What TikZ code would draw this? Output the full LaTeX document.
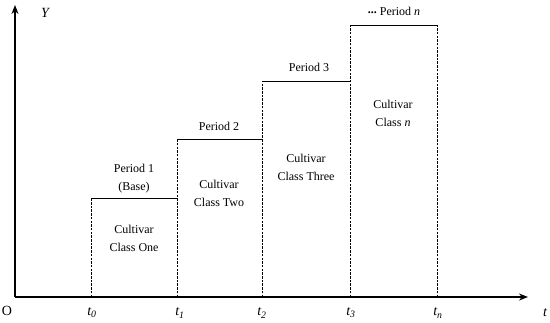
\documentclass[tikz,border=0pt]{standalone}
\usepackage{fontspec}
\setmainfont{Liberation Serif}
\usetikzlibrary{arrows.meta}
\begin{document}
\begin{tikzpicture}[x=1pt,y=-1pt,
  axis/.style={line width=1.5pt,-{Stealth[length=9pt,width=7pt]}},
  top/.style={line width=1pt},
  side/.style={line width=0.9pt,dash pattern=on 2.5pt off 1.2pt},
  lbl/.style={font=\fontsize{12}{18}\selectfont,align=center,inner sep=0pt},
  tick/.style={font=\fontsize{14}{16}\selectfont\itshape,inner sep=0pt}]
\useasboundingbox (0,0) rectangle (550,322);
\coordinate (O) at (15,297);
\coordinate (Yend) at (15,5);
\coordinate (Xend) at (528,297);
\foreach \n/\x in {0/91,1/177,2/262,3/350,n/437}{\coordinate (b\n) at (\x,297);}
\coordinate (h0) at (91,198);
\coordinate (h1a) at (177,198);
\coordinate (h1) at (177,139);
\coordinate (h2a) at (262,139);
\coordinate (h2) at (262,81);
\coordinate (h3a) at (350,81);
\coordinate (h3) at (350,25);
\coordinate (hn) at (437,25);
\draw[axis] (O) -- (Yend);
\draw[axis] (O) -- (Xend);
\draw[side] (b0) -- (h0);
\draw[side] (b1) -- (h1);
\draw[side] (b2) -- (h2);
\draw[side] (b3) -- (h3);
\draw[side] (bn) -- (hn);
\draw[top] (h0) -- (h1a);
\draw[top] (h1) -- (h2a);
\draw[top] (h2) -- (h3a);
\draw[top] (h3) -- (hn);
\node[tick] (Y) at (45,13) {Y};
\node[font=\fontsize{14}{16}\selectfont,inner sep=0pt] (Ol) at (7,311) {O};
\node[tick] (t0) at (92,313) {t\textsubscript{0}};
\node[tick] (t1) at (180,313) {t\textsubscript{1}};
\node[tick] (t2) at (262,313) {t\textsubscript{2}};
\node[tick] (t3) at (351,313) {t\textsubscript{3}};
\node[tick] (tn) at (438,313) {t\textsubscript{n}};
\node[tick] (tl) at (545,313) {t};
\node[lbl] (p1) at (134,179) {Period 1\\(Base)};
\node[lbl] (p2) at (219,126) {Period 2};
\node[lbl] (p3) at (309,67) {Period 3};
\node[lbl] (pn) at (394,11) {\raisebox{0.3ex}{\textbf{...}} Period \textit{n}};
\node[lbl] (c1) at (134,238) {Cultivar\\Class One};
\node[lbl] (c2) at (219,193) {Cultivar\\Class Two};
\node[lbl] (c3) at (306,167) {Cultivar\\Class Three};
\node[lbl] (cn) at (393,113) {Cultivar\\Class \textit{n}};
\end{tikzpicture}
\end{document}
